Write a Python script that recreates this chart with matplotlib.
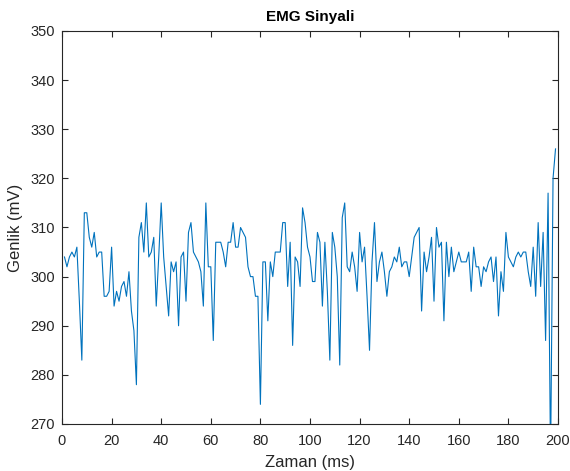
import numpy as np
import matplotlib
matplotlib.use('Agg')
import matplotlib.pyplot as plt

plt.rcParams['font.family'] = ['Liberation Sans', 'DejaVu Sans']

# EMG values (mV), one sample per ms
emg = [304, 302, 304, 305, 304, 306, 295, 283, 313, 313,
       308, 306, 309, 304, 305, 305, 296, 296, 297, 306,
       294, 297, 295, 298, 299, 296, 301, 293, 289, 278,
       308, 311, 305, 315, 304, 305, 308, 294, 304, 315,
       304, 298, 292, 303, 301, 303, 290, 304, 305, 295,
       309, 311, 305, 304, 303, 301, 294, 315, 302, 302,
       287, 307, 307, 307, 305, 302, 307, 307, 311, 306,
       306, 310, 309, 308, 302, 300, 300, 296, 296, 274,
       303, 303, 291, 303, 300, 305, 305, 305, 311, 311,
       298, 307, 286, 304, 303, 298, 314, 311, 306, 304,
       299, 299, 309, 307, 294, 307, 297, 283, 309, 306,
       300, 282, 312, 315, 302, 301, 305, 302, 297, 309,
       303, 306, 296, 285, 303, 311, 299, 303, 305, 301,
       296, 301, 302, 304, 303, 306, 302, 303, 303, 300,
       304, 308, 309, 310, 293, 305, 301, 304, 308, 295,
       310, 306, 307, 291, 307, 300, 306, 301, 303, 305,
       303, 303, 303, 305, 297, 306, 302, 302, 298, 302,
       301, 303, 304, 299, 304, 292, 301, 297, 309, 304,
       303, 302, 304, 305, 304, 305, 305, 301, 298, 306,
       296, 311, 298, 309, 287, 317, 262, 320, 326]
t = np.arange(1, len(emg) + 1)

xticks = list(range(0, 201, 20))
yticks = list(range(270, 351, 10))

fig = plt.figure(figsize=(5.70, 4.71), dpi=100)
ax = fig.add_axes([62 / 570, 1 - 424 / 471, 496 / 570, 393 / 471])

ax.plot(t, emg, color='#0072BD', linewidth=0.8)

ax.set_xlim(0, 200)
ax.set_ylim(270, 350)
ax.set_xticks(xticks)
ax.set_yticks(yticks)

dark = '#262626'
for s in ax.spines.values():
    s.set_color(dark)
    s.set_linewidth(0.8)
ax.tick_params(direction='in', length=4, width=0.8, colors=dark,
               labelsize=10.5, top=True, right=True, pad=5)
ax.tick_params(axis='x', pad=7)

ax.set_title('EMG Sinyali', fontsize=11, fontweight='bold', color='black', pad=7)
ax.set_xlabel('Zaman (ms)', fontsize=12, color=dark, labelpad=5)
ax.set_ylabel('Genlik (mV)', fontsize=12, color=dark, labelpad=5)

fig.savefig('out.png', dpi=100)
